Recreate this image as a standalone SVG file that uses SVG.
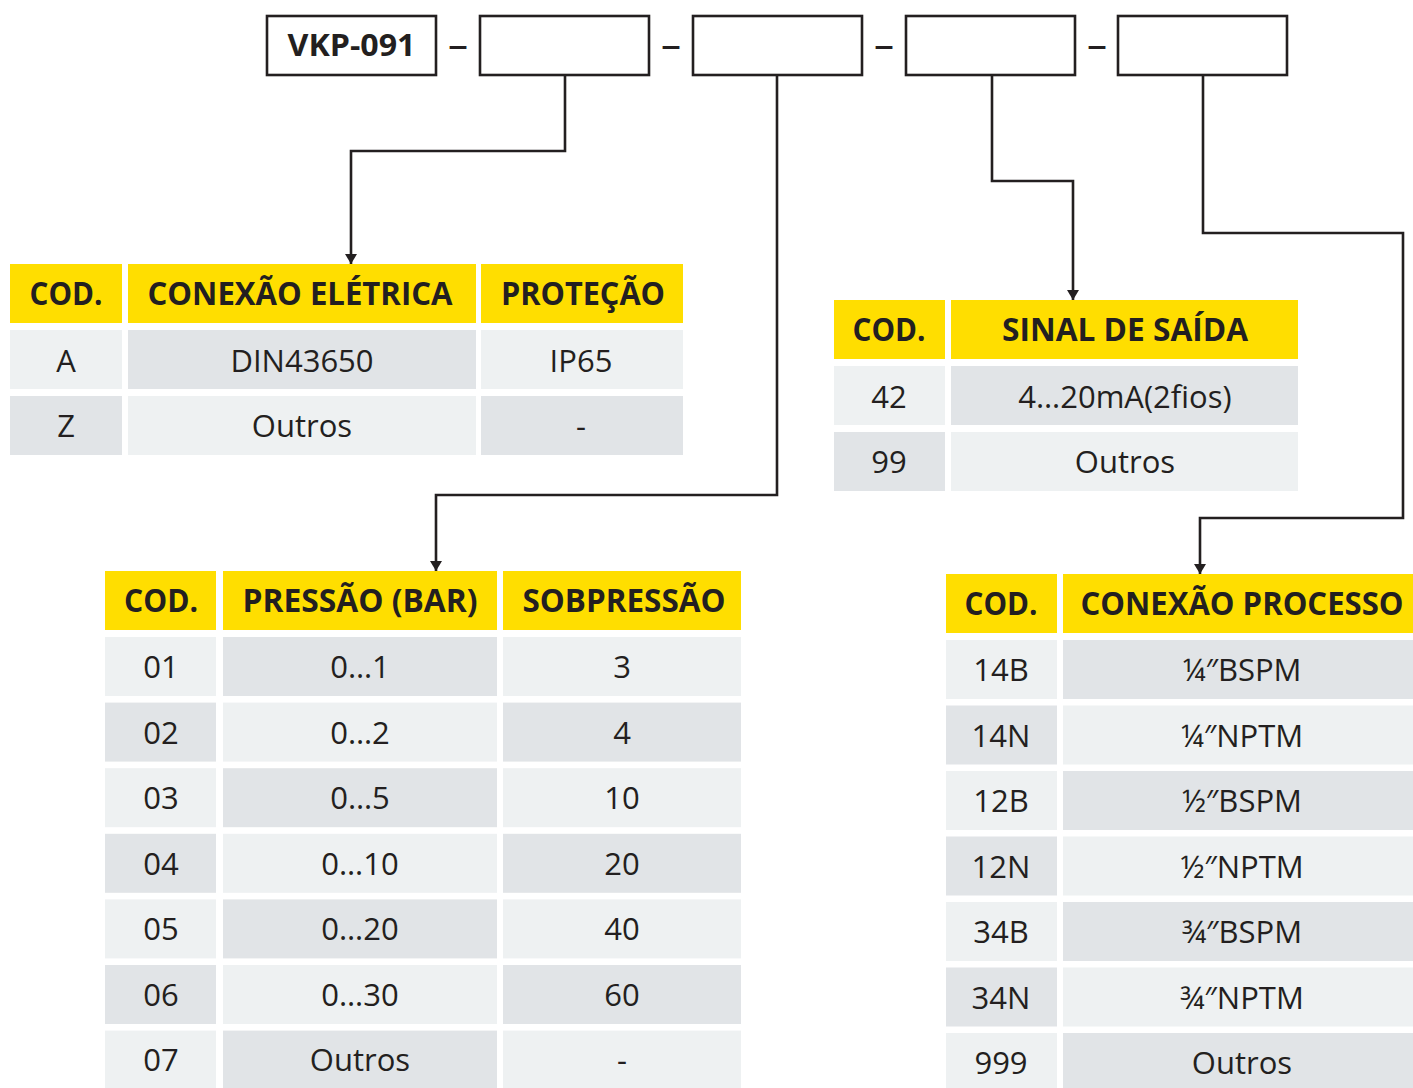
<svg xmlns="http://www.w3.org/2000/svg" width="1413" height="1088" viewBox="0 0 1413 1088">
<style>
.box{fill:#fff;stroke:#231F20;stroke-width:2.6}
.y{fill:#FFDE00}
.l{fill:#EEF1F2}
.d{fill:#E1E4E7}
.h{font-family:"Open Sans","DejaVu Sans",sans-serif;font-weight:700;font-size:32px;fill:#231F20;text-anchor:middle}
.b{font-family:"Open Sans","DejaVu Sans",sans-serif;font-weight:400;font-size:31px;fill:#231F20;text-anchor:middle}
.t{font-family:"Open Sans","DejaVu Sans",sans-serif;font-weight:700;font-size:31px;fill:#231F20;text-anchor:middle}
.dash{font-family:"Open Sans","DejaVu Sans",sans-serif;font-weight:400;font-size:40px;fill:#231F20;text-anchor:middle}
.c{fill:none;stroke:#231F20;stroke-width:2.6}
</style>
<defs>
<marker id="ar" viewBox="0 0 10 12" refX="10" refY="6" markerWidth="10" markerHeight="12" markerUnits="userSpaceOnUse" orient="auto">
<path d="M0,0 L10,6 L0,12 Z" fill="#231F20"/>
</marker>
</defs>
<rect width="1413" height="1088" fill="#fff"/>

<g id="code-boxes">
<g id="box-vkp"><rect class="box" x="267" y="16" width="169" height="59"/><text class="t" x="351.5" y="56" textLength="128" lengthAdjust="spacingAndGlyphs">VKP-091</text></g>
<text class="dash" x="458" y="58">–</text>
<g id="box-2"><rect class="box" x="480" y="16" width="169" height="59"/></g>
<text class="dash" x="671" y="58">–</text>
<g id="box-3"><rect class="box" x="693" y="16" width="169" height="59"/></g>
<text class="dash" x="884" y="58">–</text>
<g id="box-4"><rect class="box" x="906" y="16" width="169" height="59"/></g>
<text class="dash" x="1097" y="58">–</text>
<g id="box-5"><rect class="box" x="1118" y="16" width="169" height="59"/></g>
</g>

<g id="connectors">
<path class="c" d="M565,76 V151 H351 V264" marker-end="url(#ar)"/>
<path class="c" d="M777,76 V495 H436 V571" marker-end="url(#ar)"/>
<path class="c" d="M992,76 V181 H1073 V300" marker-end="url(#ar)"/>
<path class="c" d="M1203,76 V233 H1403 V518 H1200 V574" marker-end="url(#ar)"/>
</g>

<g id="table-conexao-eletrica">
<rect class="y" x="10" y="264" width="112" height="59"/>
<rect class="y" x="128" y="264" width="348" height="59"/>
<rect class="y" x="481" y="264" width="202" height="59"/>
<text class="h" x="66" y="305" textLength="73" lengthAdjust="spacingAndGlyphs">COD.</text>
<text class="h" x="300" y="305" textLength="305" lengthAdjust="spacingAndGlyphs">CONEXÃO ELÉTRICA</text>
<text class="h" x="583" y="305" textLength="164" lengthAdjust="spacingAndGlyphs">PROTEÇÃO</text>
<rect class="l" x="10" y="330" width="112" height="59"/>
<rect class="d" x="128" y="330" width="348" height="59"/>
<rect class="l" x="481" y="330" width="202" height="59"/>
<text class="b" x="66" y="372">A</text>
<text class="b" x="302" y="372">DIN43650</text>
<text class="b" x="581" y="372">IP65</text>
<rect class="d" x="10" y="396" width="112" height="59"/>
<rect class="l" x="128" y="396" width="348" height="59"/>
<rect class="d" x="481" y="396" width="202" height="59"/>
<text class="b" x="66" y="437">Z</text>
<text class="b" x="302" y="437">Outros</text>
<text class="b" x="581" y="437">-</text>
</g>

<g id="table-sinal-saida">
<rect class="y" x="834" y="300" width="111" height="59"/>
<rect class="y" x="951" y="300" width="347" height="59"/>
<text class="h" x="889" y="341" textLength="73" lengthAdjust="spacingAndGlyphs">COD.</text>
<text class="h" x="1125" y="341" textLength="246" lengthAdjust="spacingAndGlyphs">SINAL DE SAÍDA</text>
<rect class="l" x="834" y="366" width="111" height="59"/>
<rect class="d" x="951" y="366" width="347" height="59"/>
<text class="b" x="889" y="408">42</text>
<text class="b" x="1125" y="408">4…20mA(2fios)</text>
<rect class="d" x="834" y="432" width="111" height="59"/>
<rect class="l" x="951" y="432" width="347" height="59"/>
<text class="b" x="889" y="473">99</text>
<text class="b" x="1125" y="473">Outros</text>
</g>

<g id="table-pressao">
<rect class="y" x="105" y="571" width="111" height="59"/>
<rect class="y" x="223" y="571" width="274" height="59"/>
<rect class="y" x="503" y="571" width="238" height="59"/>
<text class="h" x="161" y="612" textLength="74" lengthAdjust="spacingAndGlyphs">COD.</text>
<text class="h" x="360" y="612" textLength="235" lengthAdjust="spacingAndGlyphs">PRESSÃO (BAR)</text>
<text class="h" x="624" y="612" textLength="203" lengthAdjust="spacingAndGlyphs">SOBPRESSÃO</text>

<rect class="l" x="105" y="637" width="111" height="59"/><rect class="d" x="223" y="637" width="274" height="59"/><rect class="l" x="503" y="637" width="238" height="59"/>
<text class="b" x="161" y="678">01</text><text class="b" x="360" y="678">0…1</text><text class="b" x="622" y="678">3</text>

<rect class="d" x="105" y="702.6" width="111" height="59"/><rect class="l" x="223" y="702.6" width="274" height="59"/><rect class="d" x="503" y="702.6" width="238" height="59"/>
<text class="b" x="161" y="744">02</text><text class="b" x="360" y="744">0…2</text><text class="b" x="622" y="744">4</text>

<rect class="l" x="105" y="768.2" width="111" height="59"/><rect class="d" x="223" y="768.2" width="274" height="59"/><rect class="l" x="503" y="768.2" width="238" height="59"/>
<text class="b" x="161" y="809">03</text><text class="b" x="360" y="809">0…5</text><text class="b" x="622" y="809">10</text>

<rect class="d" x="105" y="833.8" width="111" height="59"/><rect class="l" x="223" y="833.8" width="274" height="59"/><rect class="d" x="503" y="833.8" width="238" height="59"/>
<text class="b" x="161" y="875">04</text><text class="b" x="360" y="875">0…10</text><text class="b" x="622" y="875">20</text>

<rect class="l" x="105" y="899.4" width="111" height="59"/><rect class="d" x="223" y="899.4" width="274" height="59"/><rect class="l" x="503" y="899.4" width="238" height="59"/>
<text class="b" x="161" y="940">05</text><text class="b" x="360" y="940">0…20</text><text class="b" x="622" y="940">40</text>

<rect class="d" x="105" y="965" width="111" height="59"/><rect class="l" x="223" y="965" width="274" height="59"/><rect class="d" x="503" y="965" width="238" height="59"/>
<text class="b" x="161" y="1006">06</text><text class="b" x="360" y="1006">0…30</text><text class="b" x="622" y="1006">60</text>

<rect class="l" x="105" y="1030.6" width="111" height="59"/><rect class="d" x="223" y="1030.6" width="274" height="59"/><rect class="l" x="503" y="1030.6" width="238" height="59"/>
<text class="b" x="161" y="1071">07</text><text class="b" x="360" y="1071">Outros</text><text class="b" x="622" y="1071">-</text>
</g>

<g id="table-conexao-processo">
<rect class="y" x="946" y="574" width="111" height="59"/>
<rect class="y" x="1063" y="574" width="350" height="59"/>
<text class="h" x="1001" y="615" textLength="73" lengthAdjust="spacingAndGlyphs">COD.</text>
<text class="h" x="1242" y="615" textLength="323" lengthAdjust="spacingAndGlyphs">CONEXÃO PROCESSO</text>

<rect class="l" x="946" y="640" width="111" height="59"/><rect class="d" x="1063" y="640" width="350" height="59"/>
<text class="b" x="1001" y="681">14B</text><text class="b" x="1242" y="681">¼″BSPM</text>

<rect class="d" x="946" y="705.5" width="111" height="59"/><rect class="l" x="1063" y="705.5" width="350" height="59"/>
<text class="b" x="1001" y="747">14N</text><text class="b" x="1242" y="747">¼″NPTM</text>

<rect class="l" x="946" y="771" width="111" height="59"/><rect class="d" x="1063" y="771" width="350" height="59"/>
<text class="b" x="1001" y="812">12B</text><text class="b" x="1242" y="812">½″BSPM</text>

<rect class="d" x="946" y="836.5" width="111" height="59"/><rect class="l" x="1063" y="836.5" width="350" height="59"/>
<text class="b" x="1001" y="878">12N</text><text class="b" x="1242" y="878">½″NPTM</text>

<rect class="l" x="946" y="902" width="111" height="59"/><rect class="d" x="1063" y="902" width="350" height="59"/>
<text class="b" x="1001" y="943">34B</text><text class="b" x="1242" y="943">¾″BSPM</text>

<rect class="d" x="946" y="967.5" width="111" height="59"/><rect class="l" x="1063" y="967.5" width="350" height="59"/>
<text class="b" x="1001" y="1009">34N</text><text class="b" x="1242" y="1009">¾″NPTM</text>

<rect class="l" x="946" y="1033" width="111" height="59"/><rect class="d" x="1063" y="1033" width="350" height="59"/>
<text class="b" x="1001" y="1074">999</text><text class="b" x="1242" y="1074">Outros</text>
</g>
</svg>
